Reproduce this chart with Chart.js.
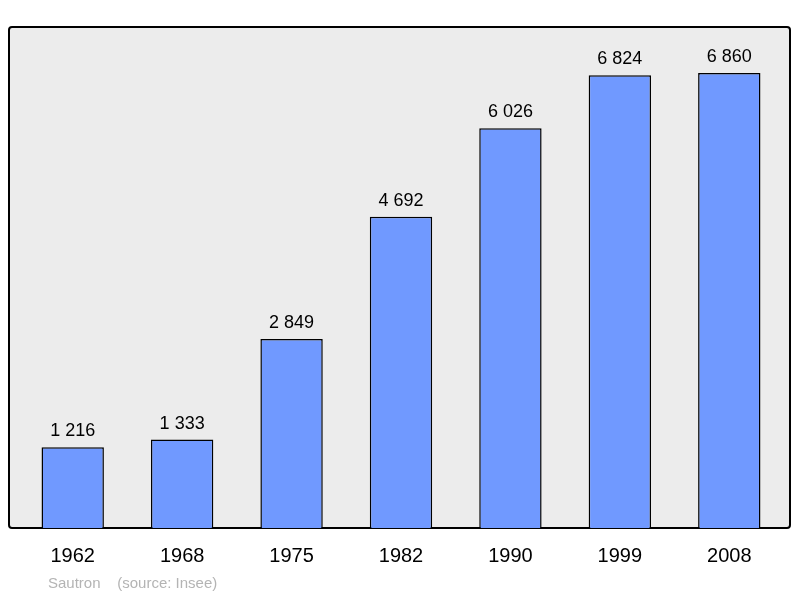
<!DOCTYPE html>
<html><head><meta charset="utf-8">
<script src="https://cdn.jsdelivr.net/npm/chart.js@4"></script>
<style>html,body{margin:0;padding:0;background:#fff}#w{width:800px;height:598px}</style>
</head><body><div id="w"><canvas id="c" width="800" height="598"></canvas></div>
<script>
const years = ["1962","1968","1975","1982","1990","1999","2008"];
const population = [1216,1333,2849,4692,6026,6824,6860];
const valueLabels = ["1 216","1 333","2 849","4 692","6 026","6 824","6 860"];
const sourceText = "Sautron    (source: Insee)";

const deco = {
  id:'deco',
  beforeDraw(ch){
    const c=ch.ctx; c.save();
    c.fillStyle='#ececec'; c.strokeStyle='#000'; c.lineWidth=2;
    c.beginPath(); c.roundRect(9,27,781,501,3); c.fill(); c.stroke();
    c.restore();
  },
  afterDraw(ch){
    const c=ch.ctx, x=ch.scales.x, y=ch.scales.y; c.save();
    c.fillStyle='#000'; c.textAlign='center';
    c.font='18px "Liberation Sans", Arial, sans-serif'; c.textBaseline='alphabetic';
    population.forEach((v,i)=>{ c.fillText(valueLabels[i], x.getPixelForValue(i), y.getPixelForValue(v)-11); });
    c.font='20px "Liberation Sans", Arial, sans-serif'; c.textBaseline='middle';
    years.forEach((t,i)=>{ c.fillText(t, x.getPixelForValue(i), 556); });
    c.fillStyle='#b4b4b4'; c.font='15px "Liberation Sans", Arial, sans-serif'; c.textAlign='left';
    c.fillText(sourceText, 48, 584);
    c.restore();
  }
};

new Chart(document.getElementById('c'),{
  type:'bar',
  data:{labels:years,datasets:[{data:population,backgroundColor:'#7099ff',borderColor:'#000',borderWidth:1.5,barPercentage:0.57,categoryPercentage:1}]},
  options:{responsive:false,animation:false,
    layout:{padding:{left:18,right:16,top:27,bottom:70}},
    plugins:{legend:{display:false},tooltip:{enabled:false}},
    scales:{x:{display:false},y:{display:false,min:0,max:7553}}},
  plugins:[deco]
});
</script></body></html>
